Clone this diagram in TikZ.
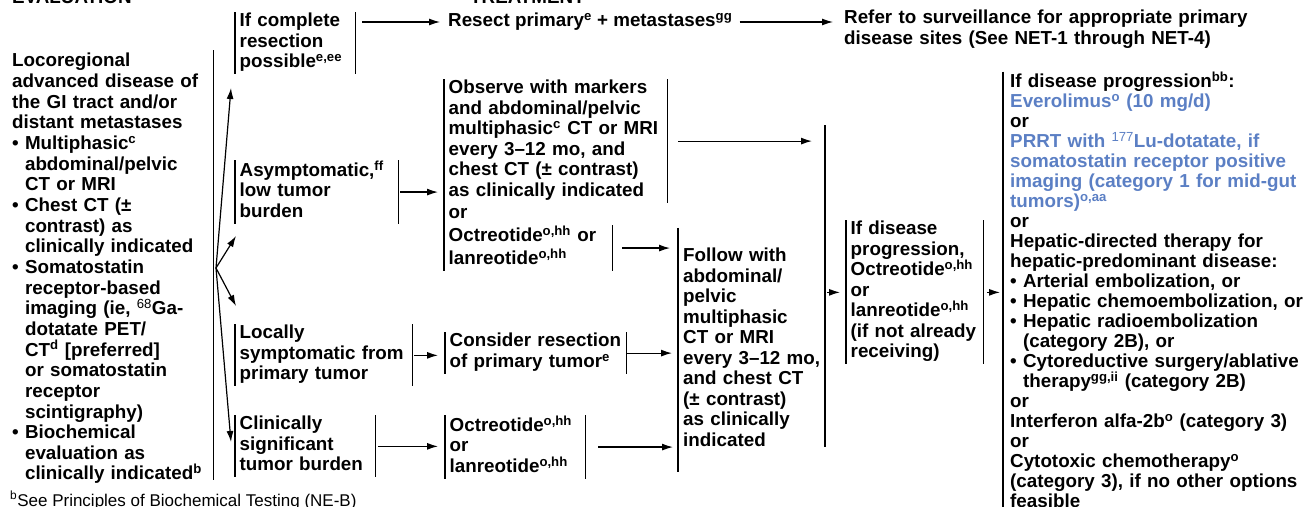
\documentclass[tikz,border=0pt]{standalone}
\usepackage{fontspec}
\setmainfont{Liberation Sans}
\usetikzlibrary{arrows.meta,positioning}
\definecolor{netblue}{RGB}{91,127,196}
\newcommand{\sps}[1]{\textsuperscript{#1}}
\newcommand{\bulind}{\hphantom{•\ }}
\tikzstyle{txt}=[inner sep=0pt, align=left, font=\fontsize{18.8}{20.5}\selectfont\bfseries]
\tikzstyle{box}=[txt, anchor=north west, inner xsep=4.5pt, execute at begin node=\strut, execute at end node=\strut]
\tikzstyle{bar}=[draw, line width=1.6pt]
\tikzstyle{edge}=[draw, line width=1.2pt, -{Latex[length=11pt,width=7pt]}]

\begin{document}
\begin{tikzpicture}[x=1pt,y=-1pt]
    \useasboundingbox (0,0) rectangle (1305,506);
    % headings, cut off at the top edge
    \node[txt, anchor=base west] (evalhd) at (12,4) {EVALUATION};
    \node[txt, anchor=base west] (treathd) at (470,4) {TREATMENT};
    % evaluation column
    \node[box, inner xsep=0pt, text width=201pt, font=\fontsize{18.8}{20.65}\selectfont\bfseries] (eval) at (12,52.3)
        {Locoregional\\advanced disease of\\the GI tract and/or\\distant metastases\\
         • Multiphasic\sps{c}\\\bulind abdominal/pelvic\\\bulind CT or MRI\\
         • Chest CT (±\\\bulind contrast) as\\\bulind clinically indicated\\
         • Somatostatin\\\bulind receptor-based\\\bulind imaging (ie, \sps{\mdseries 68}Ga-\\\bulind dotatate PET/\\
         \bulind CT\sps{d} [preferred]\\\bulind or somatostatin\\\bulind receptor\\\bulind scintigraphy)\\
         • Biochemical\\\bulind evaluation as\\\bulind clinically indicated\sps{b}};
    % branches
    \node[box, text width=111pt] (cplt) at (235,12.4) {If complete\\resection\\possible\sps{e,ee}};
    \node[box, text width=154pt] (asym) at (235,160.4) {Asymptomatic,\sps{ff}\\low tumor\\burden};
    \node[box, text width=168pt] (locl) at (235,324.4) {Locally\\symptomatic from\\primary tumor};
    \node[box, text width=131pt] (clin) at (235,415.4) {Clinically\\significant\\tumor burden};
    % treatment
    \node[txt, anchor=west] (resect) at (448,22) {Resect primary\sps{e} + metastases\sps{gg}};
    \node[box, inner xsep=0pt, text width=460pt] (refer) at (844,9.4)
        {Refer to surveillance for appropriate primary\\disease sites (See NET-1 through NET-4)};
    \node[box, text width=214pt] (obs) at (444,79.4)
        {Observe with markers\\and abdominal/pelvic\\multiphasic\sps{c} CT or MRI\\every 3--12 mo, and\\chest CT (± contrast)\\as clinically indicated};
    \node[box, text width=50pt] (orA) at (444,204.4) {or};
    \node[box, text width=159pt] (octA) at (444,225.4) {Octreotide\sps{o,hh} or\\lanreotide\sps{o,hh}};
    \node[box, text width=172pt] (cons) at (445,332.4) {Consider resection\\of primary tumor\sps{e}};
    \node[box, text width=131pt] (octB) at (445,415.4) {Octreotide\sps{o,hh}\\or\\lanreotide\sps{o,hh}};
    \node[box, anchor=west, inner xsep=5pt, text width=137pt, minimum height=244pt] (fol) at (678,350)
        {Follow with\\abdominal/\\pelvic\\multiphasic\\CT or MRI\\every 3--12 mo,\\and chest CT\\(± contrast)\\as clinically\\indicated};
    \node[box, text width=128pt] (prog) at (846,220.4)
        {If disease\\progression,\\Octreotide\sps{o,hh}\\or\\lanreotide\sps{o,hh}\\(if not already\\receiving)};
    \node[box, inner xsep=7pt, text width=300pt, font=\fontsize{18.8}{20}\selectfont\bfseries] (rblk) at (1003,71.5)
        {If disease progression\sps{bb}:\\
         \color{netblue}Everolimus\sps{o} (10 mg/d)\\
         \color{black}or\\
         \color{netblue}PRRT with \sps{\mdseries 177}Lu-dotatate, if\\somatostatin receptor positive\\imaging (category 1 for mid-gut\\tumors)\sps{o,aa}\\
         \color{black}or\\
         Hepatic-directed therapy for\\hepatic-predominant disease:\\
         • Arterial embolization, or\\
         • Hepatic chemoembolization, or\\
         • Hepatic radioembolization\\\bulind (category 2B), or\\
         • Cytoreductive surgery/ablative\\\bulind therapy\sps{gg,ii} (category 2B)\\
         or\\Interferon alfa-2b\sps{o} (category 3)\\or\\
         Cytotoxic chemotherapy\sps{o}\\(category 3), if no other options\\feasible};
    % footnote
    \node[anchor=base west, inner sep=0pt, font=\fontsize{17}{20}\selectfont] (fnote) at (10,506)
        {\sps{b}See Principles of Biochemical Testing (NE-B)};

    % bars beside the boxes
    \foreach \n in {cplt, asym, locl, clin, obs, octA, cons, octB, prog}
        \draw[bar] (\n.north west) -- (\n.south west) (\n.north east) -- (\n.south east);
    \draw[bar] (obs.north west) -- (octA.south west);
    \draw[bar] ([yshift=2pt]eval.north east) -- ([yshift=6pt]eval.south east);
    \draw[bar] (fol.north west) -- (fol.south west);
    \draw[bar] (rblk.north west) -- (rblk.south west);
    \coordinate (mtop) at (825,125);
    \coordinate (mbot) at (825,447);
    \draw[bar] (mtop) -- (mbot);

    % fan out of the evaluation column
    \coordinate (fan) at (216,268);
    \coordinate (fa) at (231,88);
    \coordinate (fb) at (236,236);
    \coordinate (fc) at (236,306);
    \coordinate (fd) at (231,442);
    \draw[edge] (fan) -- (fa);
    \draw[edge] (fan) -- (fb);
    \draw[edge] (fan) -- (fc);
    \draw[edge] (fan) -- (fd);

    % connectors
    \path[edge, shorten <=7pt, shorten >=8pt] (cplt.east |- resect.west) -- (resect.west);
    \path[edge, shorten <=7pt, shorten >=11pt] (resect.east) -- (resect.east -| refer.west);
    \path[edge, shorten <=2pt, shorten >=6pt] (asym.east) -- (asym.east -| obs.west);
    \path[edge, shorten <=11pt, shorten >=13pt] (obs.east) -- (obs.east -| mtop);
    \path[edge, shorten <=10pt, shorten >=8pt] (octA.east) -- (octA.east -| fol.west);
    \path[edge, shorten <=2pt, shorten >=7pt] (locl.east) -- (locl.east -| cons.west);
    \path[edge, shorten <=1pt, shorten >=6pt] (cons.east) -- (cons.east -| fol.west);
    \path[edge, shorten <=3pt, shorten >=7pt] (clin.east) -- (clin.east -| octB.west);
    \path[edge, shorten <=13pt, shorten >=5pt] (octB.east) -- (octB.east -| fol.west);
    \path[edge, shorten <=2pt, shorten >=6pt] (mtop |- prog.west) -- (prog.west);
    \path[edge, shorten <=4pt, shorten >=3pt] (prog.east) -- (prog.east -| rblk.west);
\end{tikzpicture}
\end{document}
